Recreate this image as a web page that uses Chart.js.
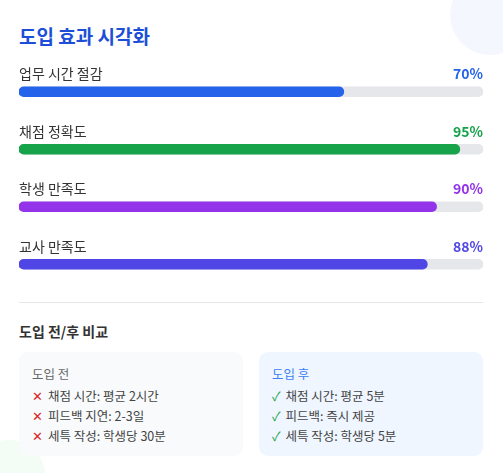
<!DOCTYPE html>
<html><head><meta charset="utf-8">
<script src="https://cdn.jsdelivr.net/npm/chart.js@4/dist/chart.umd.min.js"></script>
<style>
body{margin:0;width:503px;height:473px;background:#fff;font-family:"Noto Sans CJK KR","Noto Sans",sans-serif;position:relative;overflow:hidden}
.abs{position:absolute}
.box{position:absolute;top:352px;width:224px;height:104px;border-radius:9px}
.box .t{position:absolute;left:13px;top:12px;font-size:12.5px}
.box .i{position:absolute;left:13px;font-size:12.5px;color:#444;white-space:nowrap}
</style></head><body>
<div class="abs" style="left:450px;top:-25px;width:80px;height:80px;border-radius:50%;background:#f4f7fe"></div>
<div class="abs" style="left:-25px;top:440px;width:70px;height:70px;border-radius:50%;background:#f3fcf5"></div>
<div class="abs" style="left:19px;top:22px;font-size:19px;font-weight:bold;color:#1d4ed8">도입 효과 시각화</div>
<div class="abs" style="left:19px;top:63px;width:464px;height:230px"><canvas id="c"></canvas></div>
<div class="abs" style="left:19px;top:302px;width:464px;height:1px;background:#e5e7eb"></div>
<div class="abs" style="left:19px;top:321px;font-size:14px;font-weight:bold;color:#333">도입 전/후 비교</div>
<div class="box" style="left:19px;background:#f8fafc" id="b1"></div>
<div class="box" style="left:259px;background:#eff6ff" id="b2"></div>
<script>
const categories=["업무 시간 절감","채점 정확도","학생 만족도","교사 만족도"];
const values=[70,95,90,88];
const colors=["#2563eb","#16a34a","#9333ea","#4f46e5"];
const beforeItems=["채점 시간: 평균 2시간","피드백 지연: 2-3일","세특 작성: 학생당 30분"];
const afterItems=["채점 시간: 평균 5분","피드백: 즉시 제공","세특 작성: 학생당 5분"];
function fill(id,title,tc,items,mark,mc){
  const b=document.getElementById(id);
  let h=`<div class="t" style="color:${tc}">${title}</div>`;
  items.forEach((s,i)=>{h+=`<div class="i" style="top:${34+i*20}px"><span style="color:${mc};margin-right:5px">${mark}</span>${s}</div>`;});
  b.innerHTML=h;
}
fill("b1","도입 전","#666",beforeItems,"✕","#dc2626");
fill("b2","도입 후","#3b82f6",afterItems,"✓","#16a34a");
const labelPlugin={id:"lbl",afterDatasetsDraw(ch){
  const ctx=ch.ctx,ys=ch.scales.y,xs=ch.scales.x;
  ctx.save();ctx.textBaseline="middle";
  categories.forEach((c,i)=>{
    const y=ys.getPixelForValue(i)-18;
    ctx.font='14px "Noto Sans CJK KR"';ctx.fillStyle="#333";ctx.textAlign="left";
    ctx.fillText(c,xs.left,y);
    ctx.font='bold 14px "Noto Sans CJK KR"';ctx.fillStyle=colors[i];ctx.textAlign="right";
    ctx.fillText(values[i]+"%",xs.right,y);
  });
  ctx.restore();
}};
new Chart(document.getElementById("c"),{
  type:"bar",
  data:{labels:categories,datasets:[
    {data:values,backgroundColor:colors,barThickness:10,borderRadius:5,borderSkipped:false,grouped:false,order:0},
    {data:values.map(()=>100),backgroundColor:"#e5e7eb",barThickness:10,borderRadius:5,borderSkipped:false,grouped:false,order:1}
  ]},
  options:{indexAxis:"y",responsive:true,maintainAspectRatio:false,animation:false,
    layout:{padding:0},
    plugins:{legend:{display:false},tooltip:{enabled:false}},
    scales:{x:{display:false,min:0,max:100},y:{display:false}}},
  plugins:[labelPlugin]
});
</script></body></html>
